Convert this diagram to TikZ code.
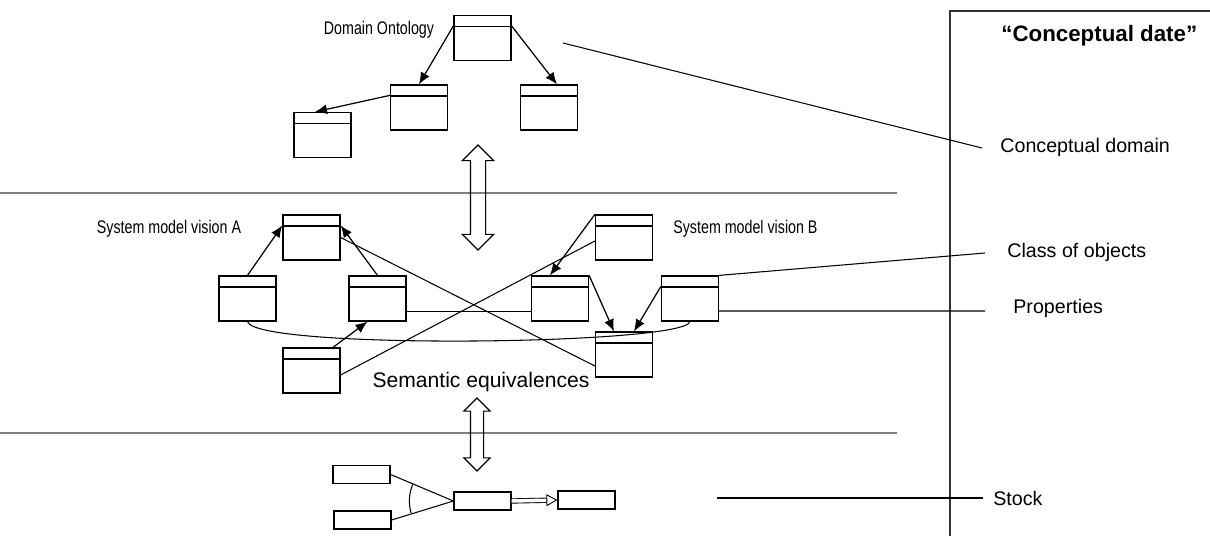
\documentclass[tikz,border=0pt]{standalone}
\usepackage{fontspec}
\setmainfont{Liberation Sans}
\newfontfamily\narrowfont[FakeStretch=0.78]{Liberation Sans}
\usetikzlibrary{arrows.meta,shapes.arrows}
\tikzset{
  classbox/.style={draw, line width=0.7pt, minimum width=1.14cm, minimum height=0.9cm, inner sep=0pt,
    path picture={\draw[line width=0.7pt] ([yshift=-0.22cm]path picture bounding box.north west) -- ([yshift=-0.22cm]path picture bounding box.north east);}},
  stockbox/.style={draw, line width=0.7pt, minimum width=1.14cm, minimum height=0.36cm, inner sep=0pt},
  link/.style={line width=0.7pt, -{Latex[length=2.4mm,width=2mm]}},
  leader/.style={line width=0.6pt},
  layer/.style={draw=gray, line width=1.3pt},
  bigarrow/.style={draw, double arrow, line width=0.7pt, inner xsep=0pt, rotate=90},
  sidetext/.style={anchor=west, inner sep=0pt, font=\fontsize{11.2}{13}\selectfont},
  vision/.style={inner sep=0pt, font=\narrowfont\fontsize{10.4}{12}\selectfont},
}
\begin{document}
\begin{tikzpicture}[x=0.02cm, y=-0.02cm]
\useasboundingbox (0,0) rectangle (1210,536);
% layers and right panel
\draw[layer] (0,193) -- (897,193);
\draw[layer] (0,433) -- (897,433);
\draw[line width=0.9pt, black!80] (950,536) -- (950,11) -- (1210,11);
\node[sidetext, font=\bfseries\fontsize{12.7}{15}\selectfont] (title) at (1001,36) {“Conceptual date”};
% domain ontology
\node[classbox] (dom) at (482.5,38) {};
\node[classbox] (dom2) at (419,107.5) {};
\node[classbox] (dom3) at (549,107.5) {};
\node[classbox] (dom4) at (322.5,135) {};
\node[vision] (domlbl) at (379,30) {Domain Ontology};
\draw[link] ([yshift=-0.22cm]dom.north west) -- (dom2.north);
\draw[link] ([yshift=-0.22cm]dom.north east) -- ([xshift=0.16cm]dom3.north);
\draw[link] ([yshift=-0.22cm]dom2.north west) -- ([xshift=-0.15cm]dom4.north);
\node[bigarrow, minimum height=2.1cm, inner ysep=0.14cm, double arrow head extend=0.16cm] (uparrow) at (478,197.5) {};
% system model vision A
\node[classbox] (aTop) at (311.5,237.5) {};
\node[classbox] (aLeft) at (247.5,298.5) {};
\node[classbox] (aRight) at (377.5,298.5) {};
\node[classbox] (aBot) at (311.5,370.5) {};
\node[vision] (alabel) at (169,229) {System model vision A};
\draw[link] (aLeft.north) -- ([yshift=-0.22cm]aTop.north west);
\draw[link] (aRight.north) -- ([yshift=-0.22cm]aTop.north east);
\draw[link] ([xshift=0.43cm]aBot.north) -- ([xshift=-0.2cm]aRight.south);
% system model vision B
\node[classbox] (bTop) at (624,237.5) {};
\node[classbox] (bLeft) at (560,298.5) {};
\node[classbox] (bRight) at (690,298.5) {};
\node[classbox] (bBot) at (624,354.5) {};
\node[vision, anchor=west] (blabel) at (673,229) {System model vision B};
\draw[link] (bTop.north west) -- ([xshift=-0.2cm]bLeft.north);
\draw[link] (bLeft.north east) -- ([xshift=-0.2cm]bBot.north);
\draw[link] ([yshift=-0.22cm]bRight.north west) -- ([xshift=0.2cm]bBot.north);
% semantic equivalences
\draw[leader] (aTop.east) -- ([yshift=-0.23cm]bBot.west);
\draw[leader] ([yshift=-0.26cm]aRight.east) -- ([yshift=-0.26cm]bLeft.west);
\draw[leader] ([yshift=-0.09cm]aBot.east) -- ([yshift=-0.07cm]bTop.west);
\draw[leader] (aLeft.south) .. controls (255,350) and (685,345) .. (bRight.south);
\node[inner sep=0pt, font=\fontsize{12}{14}\selectfont] (semeq) at (481,382) {Semantic equivalences};
\node[bigarrow, minimum height=1.46cm, inner ysep=0.12cm, double arrow head extend=0.13cm] (lowarrow) at (477,434.5) {};
% stock
\node[stockbox] (s1) at (361.5,474.5) {};
\node[stockbox] (s2) at (362.5,520) {};
\node[stockbox] (s3) at (482.5,501) {};
\node[stockbox] (s4) at (586.5,500) {};
\draw[leader] (s1.east) -- (s3.west);
\draw[leader] (s2.east) -- (s3.west);
\draw[leader] (s3.west) ++(158:0.88cm) arc[start angle=158, end angle=196, radius=0.88cm];
\draw[line width=0.5pt, double, double distance=2pt, -{Triangle[open, length=2.2mm, width=2.4mm]}] (s3.east) -- (s4.west);
% right side labels
\node[sidetext] (cdom) at (1000,147) {Conceptual domain};
\node[sidetext] (cls) at (1007,252) {Class of objects};
\node[sidetext] (props) at (1013,308) {Properties};
\node[sidetext] (stock) at (993,498) {Stock};
\coordinate (cdomStart) at (563,43);
\coordinate (cdomEnd) at (982,148);
\coordinate (clsEnd) at (985,253);
\coordinate (propsEnd) at (985,311);
\coordinate (stockStart) at (717,498);
\coordinate (stockEnd) at (983,498);
\draw[leader] (cdomStart) -- (cdomEnd);
\draw[leader] (bRight.north east) -- (clsEnd);
\draw[leader] ([yshift=-0.25cm]bRight.east) -- (propsEnd);
\draw[leader] (stockStart) -- (stockEnd);
\end{tikzpicture}
\end{document}
